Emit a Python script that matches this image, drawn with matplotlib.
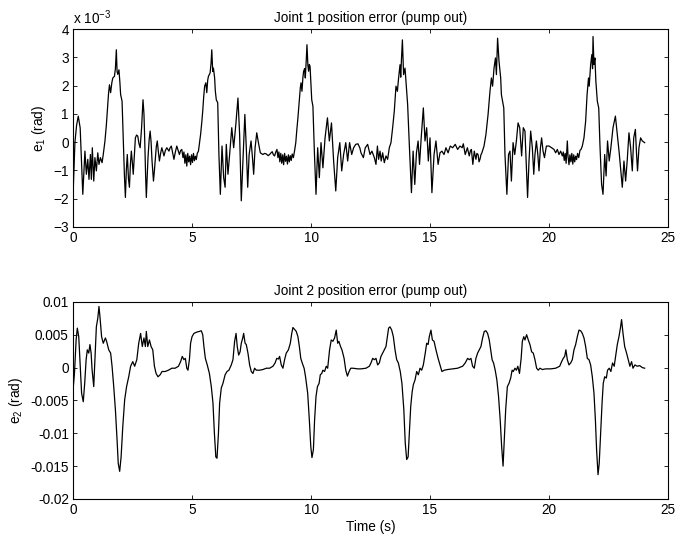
import matplotlib
matplotlib.use("Agg")
import matplotlib.pyplot as plt
import numpy as np

plt.rcParams['font.family'] = ['Liberation Sans', 'DejaVu Sans']
plt.rcParams['mathtext.fontset'] = 'custom'
plt.rcParams['mathtext.rm'] = 'Liberation Sans'
plt.rcParams['mathtext.it'] = 'Liberation Sans'
plt.rcParams['font.size'] = 9.8

# Joint 1 error (time s, error in 1e-3 rad)
t1 = [0.00, 0.08, 0.15, 0.22, 0.30, 0.36, 0.41, 0.50, 0.56, 0.62, 0.67, 0.73, 0.77, 0.81, 0.87, 0.92,
      0.98, 1.04, 1.09, 1.15, 1.22, 1.27, 1.34, 1.40, 1.44, 1.49, 1.53, 1.58, 1.63, 1.67, 1.74, 1.78,
      1.82, 1.85, 1.88, 1.93, 1.97, 2.00, 2.06, 2.11, 2.16, 2.20, 2.24, 2.28, 2.33, 2.37, 2.41, 2.45,
      2.49, 2.53, 2.58, 2.62, 2.67, 2.72, 2.77, 2.82, 2.88, 2.94, 2.98, 3.01, 3.05, 3.08, 3.12, 3.15,
      3.20, 3.24, 3.28, 3.32, 3.38, 3.42, 3.46, 3.50, 3.54, 3.58, 3.63, 3.68, 3.73, 3.78, 3.82, 3.88,
      3.94, 3.98, 4.03, 4.08, 4.13, 4.18, 4.24, 4.30, 4.36, 4.42, 4.47, 4.52, 4.57, 4.62, 4.66, 4.70,
      4.74, 4.78, 4.82, 4.86, 4.90, 4.94, 4.98, 5.02, 5.06, 5.10, 5.14, 5.18, 5.22, 5.27, 5.32, 5.36,
      5.41, 5.45, 5.49, 5.53, 5.58, 5.62, 5.66, 5.69, 5.73, 5.76, 5.80, 5.83, 5.87, 5.90, 5.95, 5.98,
      6.02, 6.08, 6.13, 6.19, 6.23, 6.26, 6.30, 6.33, 6.39, 6.44, 6.51, 6.58, 6.67, 6.75, 6.84, 6.93,
      7.00, 7.07, 7.14, 7.22, 7.28, 7.34, 7.40, 7.48, 7.54, 7.59, 7.65, 7.72, 7.79, 7.87, 7.98, 8.05,
      8.12, 8.20, 8.26, 8.32, 8.37, 8.42, 8.47, 8.52, 8.57, 8.61, 8.65, 8.69, 8.73, 8.77, 8.81, 8.85,
      8.89, 8.93, 8.97, 9.01, 9.05, 9.09, 9.13, 9.17, 9.21, 9.26, 9.31, 9.36, 9.40, 9.45, 9.50, 9.55,
      9.58, 9.62, 9.66, 9.69, 9.73, 9.76, 9.80, 9.83, 9.87, 9.90, 9.93, 9.96, 10.00, 10.03, 10.08, 10.14,
      10.21, 10.28, 10.35, 10.42, 10.50, 10.59, 10.69, 10.77, 10.86, 10.95, 11.04, 11.12, 11.21, 11.29, 11.37, 11.46,
      11.54, 11.62, 11.71, 11.79, 11.88, 11.97, 12.05, 12.10, 12.20, 12.28, 12.38, 12.48, 12.56, 12.66, 12.73, 12.79,
      12.84, 12.90, 12.95, 13.01, 13.08, 13.15, 13.22, 13.29, 13.36, 13.43, 13.50, 13.57, 13.63, 13.68, 13.74, 13.77,
      13.80, 13.84, 13.89, 13.95, 14.00, 14.06, 14.13, 14.22, 14.29, 14.36, 14.43, 14.50, 14.56, 14.63, 14.72, 14.79,
      14.86, 14.93, 15.00, 15.08, 15.17, 15.25, 15.34, 15.42, 15.50, 15.59, 15.67, 15.76, 15.85, 15.95, 16.06, 16.16,
      16.26, 16.35, 16.40, 16.48, 16.57, 16.65, 16.70, 16.74, 16.80, 16.86, 16.93, 16.97, 17.02, 17.06, 17.10, 17.14,
      17.18, 17.27, 17.35, 17.44, 17.52, 17.58, 17.63, 17.69, 17.75, 17.79, 17.84, 17.90, 17.94, 17.97, 18.00, 18.04,
      18.10, 18.15, 18.23, 18.30, 18.36, 18.42, 18.49, 18.56, 18.63, 18.70, 18.77, 18.85, 18.92, 18.99, 19.06, 19.10,
      19.16, 19.23, 19.30, 19.36, 19.41, 19.47, 19.53, 19.58, 19.64, 19.69, 19.75, 19.81, 19.89, 20.00, 20.11, 20.21,
      20.28, 20.35, 20.42, 20.49, 20.56, 20.60, 20.64, 20.68, 20.72, 20.77, 20.80, 20.84, 20.88, 20.92, 20.96, 21.00,
      21.04, 21.08, 21.12, 21.16, 21.20, 21.25, 21.30, 21.35, 21.40, 21.47, 21.54, 21.60, 21.66, 21.69, 21.75, 21.80,
      21.83, 21.85, 21.89, 21.93, 21.97, 22.03, 22.09, 22.14, 22.21, 22.27, 22.34, 22.40, 22.46, 22.53, 22.60, 22.69,
      22.79, 22.87, 22.95, 23.02, 23.08, 23.15, 23.22, 23.29, 23.36, 23.43, 23.50, 23.56, 23.63, 23.68, 23.72, 23.78,
      23.85, 23.92, 24.02]
e1 = [-1.90, 0.00, 0.60, 0.92, 0.50, -0.80, -1.85, -0.32, -1.14, -0.61, -1.32, -0.44, -1.32, -0.20, -1.38, -0.55,
      -1.02, -0.38, -0.79, -0.55, -0.73, -0.44, 0.03, 0.60, 1.10, 1.70, 2.03, 1.75, 2.10, 2.27, 2.33, 2.60,
      3.27, 2.50, 2.40, 2.56, 2.10, 1.68, 1.45, 0.15, -1.20, -1.96, -1.00, -0.44, -1.30, -1.60, -0.80, -0.32,
      -0.70, -1.14, -0.40, 0.15, 0.25, 0.21, -0.05, -0.20, 0.50, 1.50, 1.00, 0.15, -1.20, -1.96, -1.20, -0.55,
      0.10, 0.39, 0.00, -0.67, -1.38, -1.00, -0.55, -0.15, 0.04, -0.30, -0.67, -0.40, -0.20, -0.35, -0.49, -0.30,
      -0.20, -0.25, -0.32, -0.20, -0.14, -0.35, -0.61, -0.35, -0.14, -0.30, -0.44, -0.30, -0.26, -0.55, -0.35, -0.75,
      -0.45, -0.85, -0.40, -0.70, -0.50, -0.80, -0.45, -0.72, -0.40, -0.66, -0.50, -0.62, -0.40, -0.32, 0.00, 0.27,
      0.70, 1.10, 1.60, 1.98, 2.10, 1.75, 2.20, 2.33, 2.40, 2.45, 2.80, 3.27, 2.50, 2.62, 2.27, 1.80,
      1.50, 1.39, -0.44, -1.85, -0.90, -0.14, -0.80, -1.26, -1.60, -0.08, -1.14, -0.44, 0.51, -0.20, 0.62, 1.56,
      0.27, -2.08, -0.67, 0.98, -0.20, -1.60, -0.44, 0.04, -0.55, -1.14, -0.20, 0.33, -0.02, -0.38, -0.44, -0.40,
      -0.42, -0.48, -0.44, -0.38, -0.34, -0.45, -0.49, -0.35, -0.26, -0.55, -0.35, -0.70, -0.40, -0.75, -0.45, -0.80,
      -0.40, -0.68, -0.50, -0.78, -0.45, -0.70, -0.48, -0.65, -0.42, -0.55, -0.30, -0.02, 0.40, 0.86, 1.40, 1.92,
      2.10, 1.80, 2.30, 2.51, 2.60, 2.27, 2.90, 3.45, 2.70, 2.51, 2.75, 2.68, 2.00, 1.50, 1.27, -0.32,
      -1.85, -0.20, -1.26, -0.02, -0.91, 0.15, 0.86, 0.04, 0.68, -0.67, -1.73, -0.55, -0.02, -1.02, -0.44, -0.02,
      -0.67, -0.02, -0.44, -0.20, -0.08, -0.06, -0.20, -0.38, -0.55, -0.20, -0.08, -0.44, -0.32, -0.55, -0.79, -0.14,
      -0.61, -0.32, -0.67, -0.38, -0.73, -0.49, -0.61, -0.20, -0.02, 0.51, 1.10, 1.98, 1.80, 2.27, 2.74, 2.30,
      2.92, 3.62, 2.39, 2.62, 2.04, 1.33, -0.08, -1.79, -0.32, -1.50, -0.38, 0.04, -0.79, 0.15, 1.21, 0.04,
      0.51, -0.67, 0.15, -1.79, -0.44, 0.04, -0.79, -0.38, -0.32, -0.44, -0.20, -0.38, -0.14, -0.20, -0.08, -0.26,
      -0.14, -0.20, -0.06, -0.44, -0.20, -0.49, -0.30, -0.26, -0.79, -0.32, -0.61, -0.40, -0.44, -0.70, -0.61, -0.45,
      -0.38, -0.14, 0.27, 0.98, 1.80, 2.27, 1.98, 2.62, 2.98, 2.39, 3.68, 2.86, 2.51, 2.27, 1.68, 1.50,
      1.21, -0.44, -1.85, -0.44, -0.32, -1.38, -0.02, -0.44, 0.04, 0.68, 0.51, -0.49, 0.51, 0.39, -1.14, -1.96,
      -0.67, 0.39, -0.20, -1.14, -0.44, 0.04, -0.44, -1.02, -0.20, 0.15, -0.32, -0.55, -0.14, -0.14, -0.20, -0.26,
      -0.38, -0.26, -0.44, -0.32, -0.49, -0.35, -0.65, -0.40, -0.75, 0.04, -0.50, -0.80, -0.45, -0.70, -0.40, -0.78,
      -0.45, -0.70, -0.50, -0.62, -0.40, -0.55, -0.30, -0.25, -0.14, 0.15, 0.74, 1.68, 2.27, 1.98, 2.74, 3.10,
      2.60, 3.74, 2.74, 2.98, 2.15, 1.45, 1.21, -0.08, -1.50, -1.85, -0.44, -1.20, 0.04, -0.67, -0.20, 0.51,
      0.92, 0.27, -0.38, -1.02, -1.60, -0.67, -1.38, -0.61, 0.33, -0.20, -1.02, 0.15, 0.45, -0.44, -1.02, -0.20,
      0.15, 0.04, -0.02]

# Joint 2 error (time s, error in 1e-3 rad)
t2 = [0.00, 0.06, 0.13, 0.18, 0.24, 0.29, 0.36, 0.43, 0.49, 0.55, 0.60, 0.66, 0.71, 0.76, 0.80, 0.87,
      0.92, 0.98, 1.04, 1.09, 1.13, 1.20, 1.27, 1.36, 1.41, 1.50, 1.58, 1.64, 1.71, 1.78, 1.85, 1.90,
      1.96, 2.02, 2.09, 2.17, 2.25, 2.34, 2.42, 2.51, 2.59, 2.68, 2.76, 2.84, 2.91, 2.98, 3.04, 3.08,
      3.14, 3.21, 3.28, 3.35, 3.42, 3.49, 3.57, 3.66, 3.74, 3.87, 4.01, 4.15, 4.29, 4.43, 4.52, 4.59,
      4.66, 4.72, 4.78, 4.83, 4.89, 4.94, 5.00, 5.08, 5.20, 5.31, 5.39, 5.45, 5.50, 5.56, 5.64, 5.73,
      5.81, 5.88, 5.94, 6.00, 6.05, 6.11, 6.16, 6.23, 6.30, 6.39, 6.47, 6.55, 6.65, 6.72, 6.79, 6.85,
      6.90, 6.96, 7.02, 7.07, 7.13, 7.17, 7.23, 7.28, 7.35, 7.42, 7.49, 7.56, 7.63, 7.70, 7.84, 7.98,
      8.12, 8.26, 8.40, 8.49, 8.56, 8.63, 8.68, 8.75, 8.82, 8.89, 8.96, 9.05, 9.13, 9.19, 9.24, 9.31,
      9.38, 9.45, 9.51, 9.57, 9.63, 9.71, 9.77, 9.86, 9.93, 9.99, 10.04, 10.10, 10.15, 10.21, 10.27, 10.34,
      10.39, 10.45, 10.50, 10.57, 10.64, 10.70, 10.78, 10.85, 10.92, 10.99, 11.06, 11.12, 11.17, 11.24, 11.30, 11.39,
      11.46, 11.53, 11.60, 11.67, 11.76, 11.97, 12.10, 12.31, 12.45, 12.52, 12.59, 12.66, 12.73, 12.80, 12.87, 12.94,
      13.01, 13.08, 13.15, 13.21, 13.26, 13.32, 13.39, 13.46, 13.53, 13.60, 13.67, 13.75, 13.82, 13.90, 13.96, 14.02,
      14.08, 14.13, 14.19, 14.25, 14.30, 14.37, 14.44, 14.51, 14.58, 14.65, 14.72, 14.80, 14.86, 14.92, 14.97, 15.04,
      15.10, 15.17, 15.25, 15.34, 15.42, 15.50, 15.60, 15.74, 15.95, 16.16, 16.37, 16.48, 16.58, 16.65, 16.72, 16.79,
      16.86, 16.93, 17.00, 17.07, 17.14, 17.21, 17.28, 17.35, 17.42, 17.49, 17.55, 17.61, 17.67, 17.74, 17.81, 17.88,
      17.95, 18.01, 18.07, 18.12, 18.18, 18.25, 18.32, 18.39, 18.45, 18.50, 18.57, 18.63, 18.69, 18.76, 18.83, 18.88,
      18.94, 18.99, 19.06, 19.13, 19.20, 19.27, 19.34, 19.41, 19.48, 19.55, 19.62, 19.72, 19.86, 20.07, 20.28, 20.45,
      20.53, 20.60, 20.66, 20.71, 20.77, 20.84, 20.91, 20.98, 21.05, 21.12, 21.19, 21.26, 21.33, 21.40, 21.47, 21.54,
      21.61, 21.68, 21.75, 21.82, 21.89, 21.95, 22.00, 22.06, 22.11, 22.17, 22.23, 22.28, 22.34, 22.41, 22.46, 22.53,
      22.60, 22.67, 22.74, 22.80, 22.87, 22.94, 23.00, 23.05, 23.11, 23.18, 23.26, 23.33, 23.40, 23.47, 23.53, 23.61,
      23.71, 23.81, 23.92, 24.02]
e2 = [-3.4, -0.9, 4.2, 6.0, 4.7, 1.2, -3.9, -5.2, -2.4, 1.2, 2.7, 2.2, 3.5, 2.2, -0.3, -2.9,
      1.2, 6.2, 7.5, 9.3, 7.8, 4.7, 3.7, 4.5, 4.0, 2.7, 2.2, 0.2, -2.9, -6.4, -11.0, -14.6,
      -15.8, -13.6, -9.0, -4.9, -2.9, -1.4, 0.2, 0.9, 0.2, 1.2, 3.7, 5.2, 3.2, 4.5, 3.2, 5.5,
      3.2, 4.2, 3.2, 2.7, 0.2, -0.9, -1.4, -1.1, -0.6, -0.6, -0.4, -0.1, -0.1, 0.2, 0.9, 1.7,
      1.2, 1.4, -0.1, -0.4, 1.2, 3.7, 4.7, 5.2, 5.4, 5.5, 5.6, 5.0, 3.2, 1.4, 0.4, -0.9,
      -2.9, -5.4, -10.0, -13.6, -13.8, -10.0, -5.4, -3.1, -2.4, -1.1, -0.6, -0.4, 0.4, 1.2, 4.0, 5.2,
      3.2, 1.9, 2.4, 3.7, 4.5, 5.2, 3.7, 3.5, 2.2, 0.4, -0.6, -0.9, -0.1, -0.4, -0.4, -0.3,
      -0.1, -0.1, 0.2, 0.7, 1.4, 1.3, 1.7, 0.4, -0.1, 1.2, 2.2, 2.7, 3.7, 5.2, 6.1, 5.8,
      5.5, 4.7, 3.2, 1.4, 0.7, -0.1, -1.4, -3.9, -8.0, -12.0, -13.7, -12.5, -8.0, -4.4, -2.9, -2.4,
      -1.1, -0.9, -0.4, -0.6, 0.2, -0.1, 2.7, 4.2, 4.0, 4.5, 5.7, 3.7, 4.0, 3.2, 2.7, 1.4,
      -0.4, -1.3, -0.6, -0.1, -0.1, -0.2, -0.2, -0.1, 0.2, 0.7, 1.4, 1.2, 1.4, 0.4, 0.7, 1.7,
      2.2, 2.7, 3.2, 4.7, 6.0, 6.2, 5.7, 4.7, 2.7, 1.2, 0.7, -0.6, -2.4, -6.4, -11.5, -14.0,
      -13.6, -10.0, -5.9, -3.7, -2.6, -1.9, -0.6, -1.1, -0.1, -0.4, 0.4, 2.2, 3.7, 3.5, 4.7, 5.7,
      4.2, 4.0, 2.7, 1.4, 0.4, -0.6, -0.4, -0.3, -0.2, -0.1, 0.2, 0.7, 1.4, 1.2, 1.4, 0.2,
      -0.1, 1.4, 2.2, 2.7, 3.2, 4.5, 5.5, 5.6, 5.2, 4.2, 2.7, 1.2, 0.7, -0.4, -1.9, -4.4,
      -8.0, -12.0, -15.0, -11.0, -6.4, -2.9, -2.4, -1.6, -0.4, -0.6, -0.1, -0.4, 0.2, -0.9, 1.4, 4.0,
      4.7, 4.2, 5.0, 4.2, 3.5, 2.4, 2.2, 1.2, -0.1, -0.4, -0.1, -0.3, -0.2, -0.2, -0.1, 0.2,
      0.9, 1.4, 1.7, 2.7, 1.2, 0.4, 0.7, 1.2, 2.7, 3.5, 4.7, 5.7, 5.6, 5.2, 4.5, 3.2,
      1.4, 1.2, 0.4, -1.4, -3.9, -8.0, -12.5, -16.3, -14.6, -10.0, -5.4, -2.4, -1.4, -1.6, -0.4, -0.1,
      -0.6, 0.7, 0.2, 1.7, 3.5, 4.7, 6.0, 7.3, 5.2, 3.2, 2.2, 1.2, 0.2, 0.9, -0.1, 0.4,
      0.2, 0.3, 0.0, -0.1]

x_ticks = [0, 5, 10, 15, 20, 25]
y1_ticks = [-3, -2, -1, 0, 1, 2, 3, 4]
y2_ticks = [0.01, 0.005, 0, -0.005, -0.01, -0.015, -0.02]
y2_labels = ['0.01', '0.005', '0', '-0.005', '-0.01', '-0.015', '-0.02']

fig = plt.figure(figsize=(6.89, 5.40), dpi=100)
ax1 = fig.add_axes([0.106, 0.580, 0.8635, 0.366])
ax2 = fig.add_axes([0.106, 0.076, 0.8635, 0.365])

for ax in (ax1, ax2):
    ax.tick_params(direction='in', top=True, right=True, length=3, width=0.6, pad=3)
    for s in ax.spines.values():
        s.set_linewidth(0.8)
    ax.set_xlim(0, 25)
    ax.set_xticks(x_ticks)

ax1.plot(t1, e1, color='black', lw=0.9)
ax1.set_ylim(-3, 4)
ax1.set_yticks(y1_ticks)
ax1.set_title('Joint 1 position error (pump out)', fontsize=9.8, pad=5)
ax1.set_ylabel('e$_1$ (rad)')
ax1.text(0.0, 1.012, r'x 10$^{-3}$', transform=ax1.transAxes, ha='left', va='bottom')

ax2.plot(t2, np.array(e2) * 1e-3, color='black', lw=0.9)
ax2.set_ylim(-0.02, 0.01)
ax2.set_yticks(y2_ticks)
ax2.set_yticklabels(y2_labels)
ax2.set_title('Joint 2 position error (pump out)', fontsize=9.8, pad=5)
ax2.set_ylabel('e$_2$ (rad)')
ax2.set_xlabel('Time (s)', labelpad=2)

fig.savefig('out.png', dpi=100)
